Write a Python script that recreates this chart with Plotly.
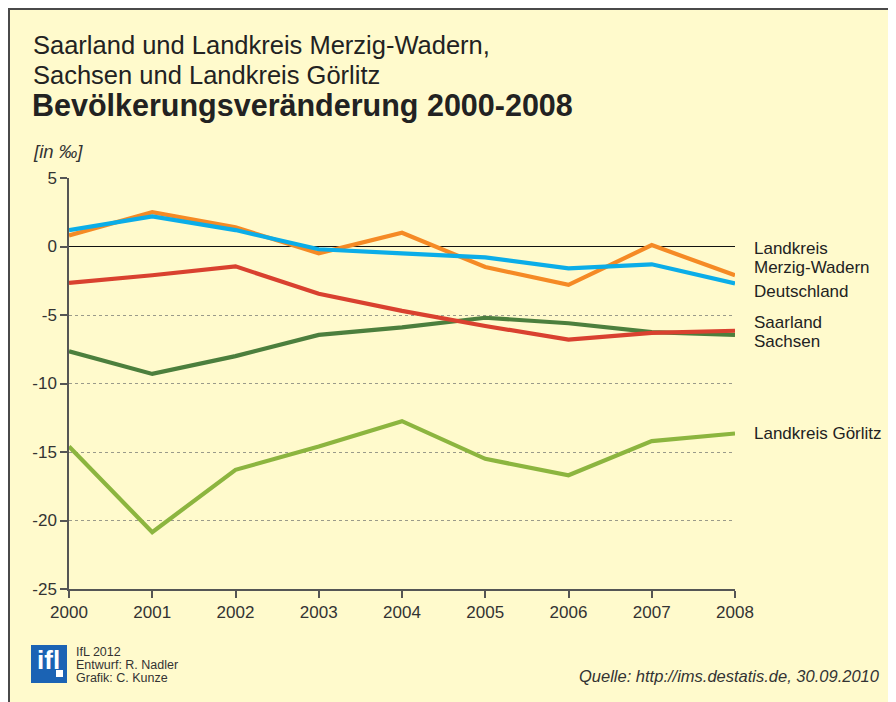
import plotly.graph_objects as go

years = [2000, 2001, 2002, 2003, 2004, 2005, 2006, 2007, 2008]
merzig_wadern = [0.8, 2.5, 1.4, -0.5, 1.0, -1.5, -2.8, 0.1, -2.1]
deutschland = [1.2, 2.2, 1.2, -0.2, -0.5, -0.8, -1.6, -1.3, -2.7]
saarland = [-2.65, -2.1, -1.45, -3.45, -4.7, -5.8, -6.8, -6.3, -6.15]
sachsen = [-7.65, -9.3, -8.0, -6.45, -5.9, -5.2, -5.6, -6.25, -6.45]
goerlitz = [-14.6, -20.85, -16.3, -14.6, -12.75, -15.5, -16.7, -14.2, -13.65]

y_ticks = [5, 0, -5, -10, -15, -20, -25]
y_ticktext = ["5", "0", "-5", "-10", "-15", "-20", "-25"]

BG = "#FFFACC"
FONT = "Liberation Sans, Arial, Helvetica, sans-serif"

OFF = 8  # page body margin
# plot area in window pixels
L, R, T, B = 69, 735, 178, 589
W, H = 896, 702


def px(x):
    return (x - L) / (R - L)


def py(y):
    return (B - y) / (B - T)


fig = go.Figure()

series = [
    ("Landkreis Görlitz", goerlitz, "#8CB53F"),
    ("Sachsen", sachsen, "#4C7F3D"),
    ("Saarland", saarland, "#D9412F"),
    ("Landkreis Merzig-Wadern", merzig_wadern, "#F58A25"),
    ("Deutschland", deutschland, "#0BADE8"),
]
for name, vals, col in series:
    fig.add_trace(go.Scatter(x=years, y=vals, mode="lines", name=name,
                             line=dict(color=col, width=4.2),
                             showlegend=False, hoverinfo="skip"))

ann = []
# titles
ann.append(dict(text="Saarland und Landkreis Merzig-Wadern,", x=px(31), y=py(45),
                font=dict(size=25.5, color="#222")))
ann.append(dict(text="Sachsen und Landkreis Görlitz", x=px(31), y=py(75),
                font=dict(size=25.5, color="#222")))
ann.append(dict(text="<b>Bevölkerungsveränderung 2000-2008</b>", x=px(30), y=py(105),
                font=dict(size=30.5, color="#222")))
ann.append(dict(text="<i>[in ‰]</i>", x=px(31), y=py(151),
                font=dict(size=18.5, color="#333")))

# series labels
labels = [("Landkreis", 248), ("Merzig-Wadern", 267), ("Deutschland", 291),
          ("Saarland", 322), ("Sachsen", 341), ("Landkreis Görlitz", 433)]
for t, yy in labels:
    ann.append(dict(text=t, x=px(752), y=py(yy), font=dict(size=17, color="#222")))

# footer
for t, yy in [("IfL 2012", 652), ("Entwurf: R. Nadler", 665), ("Grafik: C. Kunze", 678)]:
    ann.append(dict(text=t, x=px(74), y=py(yy), font=dict(size=12.5, color="#333")))
ann.append(dict(text="<i>Quelle: http://ims.destatis.de, 30.09.2010</i>", x=px(882), y=py(676),
                xanchor="right", font=dict(size=16.5, color="#333")))
# logo text
ann.append(dict(text="<b>ifl</b>", x=px(48), y=py(660), xanchor="center",
                font=dict(size=26, color="white", family="Liberation Sans Narrow, Liberation Sans, Arial")))

for a in ann:
    a.setdefault("xanchor", "left")
    a["xref"] = "paper"
    a["yref"] = "paper"
    a["yanchor"] = "middle"
    a["showarrow"] = False
    a["font"].setdefault("family", FONT)

shapes = [
    # frame: top and left edges of the figure
    dict(type="line", xref="paper", yref="paper", x0=px(OFF), x1=px(W + OFF), y0=py(OFF + 1), y1=py(OFF + 1),
         line=dict(color="#4a4a4a", width=2)),
    dict(type="line", xref="paper", yref="paper", x0=px(OFF + 1), x1=px(OFF + 1), y0=py(OFF), y1=py(H + OFF),
         line=dict(color="#4a4a4a", width=2)),
    # logo
    dict(type="rect", xref="paper", yref="paper", x0=px(31), x1=px(67), y0=py(645), y1=py(683),
         fillcolor="#1B63B4", line=dict(width=0)),
    dict(type="rect", xref="paper", yref="paper", x0=px(56), x1=px(63), y0=py(670), y1=py(677),
         fillcolor="white", line=dict(width=0)),
]

fig.update_layout(
    width=W, height=H,
    margin=dict(l=L - OFF, r=W - (R - OFF), t=T - OFF, b=H - (B - OFF), pad=0),
    paper_bgcolor=BG, plot_bgcolor=BG,
    annotations=ann, shapes=shapes,
    font=dict(family=FONT, color="#333"),
    xaxis=dict(range=[2000, 2008], tickvals=years, ticktext=[str(y) for y in years],
               showgrid=False, zeroline=False, showline=True, linecolor="#555", linewidth=1.5,
               ticks="outside", ticklen=7, tickcolor="#555", tickwidth=1.5,
               tickfont=dict(size=17, color="#333"), fixedrange=True),
    yaxis=dict(range=[-25, 5], tickvals=y_ticks, ticktext=y_ticktext,
               showgrid=True, gridcolor="#9a9a8a", griddash="dot", gridwidth=1,
               zeroline=True, zerolinecolor="#111", zerolinewidth=1.3,
               showline=True, linecolor="#555", linewidth=1.5,
               ticks="outside", ticklen=7, tickcolor="#555", tickwidth=1.5,
               tickfont=dict(size=17, color="#333"), fixedrange=True),
)

fig.write_html("out.html")
